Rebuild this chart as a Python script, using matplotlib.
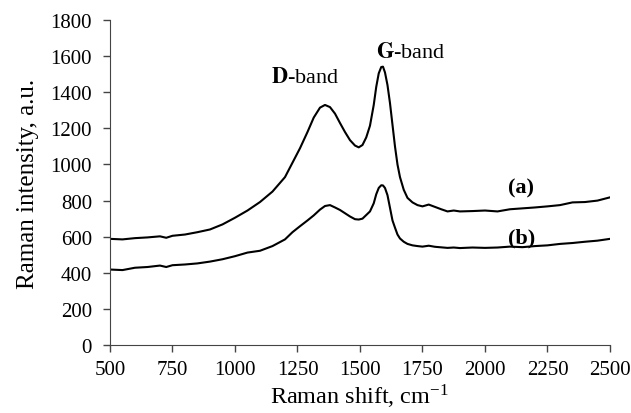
import matplotlib.pyplot as plt
import numpy as np

# 拉曼光谱数据
shift = [500, 550, 600, 650, 700, 725, 750, 800, 850, 900, 950, 1000, 1050, 1100, 1150,
         1200, 1230, 1260, 1290, 1315, 1340, 1360, 1380, 1400, 1420, 1440, 1460, 1480,
         1495, 1510, 1525, 1540, 1555, 1565, 1575, 1585, 1592, 1600, 1610, 1620, 1630,
         1640, 1650, 1660, 1675, 1690, 1710, 1730, 1750, 1775, 1800, 1825, 1850, 1875,
         1900, 1950, 2000, 2050, 2100, 2150, 2200, 2250, 2300, 2350, 2400, 2450, 2500]

int_a = [588, 585, 592, 596, 602, 594, 605, 612, 625, 640, 668, 705, 745, 792, 850,
         930, 1010, 1090, 1180, 1260, 1315, 1330, 1318, 1282, 1230, 1180, 1135, 1105,
         1095, 1108, 1150, 1215, 1330, 1430, 1505, 1540, 1542, 1510, 1440, 1340, 1220,
         1100, 1000, 930, 860, 815, 790, 775, 768, 778, 765, 752, 740, 745, 740, 742,
         745, 740, 752, 757, 762, 768, 775, 790, 792, 800, 818]

int_b = [418, 415, 428, 432, 440, 432, 442, 446, 452, 462, 475, 492, 512, 522, 548,
         585, 625, 658, 690, 718, 750, 770, 775, 762, 748, 730, 712, 697,
         695, 700, 720, 740, 785, 835, 870, 885, 884, 870, 830, 760, 690,
         650, 612, 590, 572, 560, 552, 548, 545, 550, 544, 541, 538, 540, 537, 540,
         538, 540, 545, 542, 548, 552, 560, 565, 572, 578, 588]

plt.rcParams['font.family'] = ['Liberation Serif', 'DejaVu Serif']
plt.rcParams['mathtext.fontset'] = 'stix'

fig = plt.figure(figsize=(6.31, 4.14), dpi=100)
ax = fig.add_axes([0.1743, 0.1643, 0.7924, 0.7847])

ax.plot(shift, int_a, color='black', linewidth=1.5)
ax.plot(shift, int_b, color='black', linewidth=1.5)

ax.set_xlim(500, 2500)
ax.set_ylim(0, 1800)
ax.set_xticks(range(500, 2501, 250))
ax.set_yticks(range(0, 1801, 200))
ax.spines['top'].set_visible(False)
ax.spines['right'].set_visible(False)
ax.spines['left'].set_color('#444444')
ax.spines['bottom'].set_color('#444444')
ax.tick_params(direction='out', length=5, width=1, color='#444444', labelsize=15)
ax.tick_params(axis='y', pad=8)
ax.tick_params(axis='x', pad=6)

ax.set_xlabel('Raman shift, cm$^{\\mathregular{-1}}$', fontsize=17.5, labelpad=2)
ax.set_ylabel('Raman intensity, a.u.', fontsize=18, labelpad=8)

ax.text(1280, 1484, r'$\mathbf{D}$-band', fontsize=16, ha='center', va='center')
ax.text(1704, 1623, r'$\mathbf{G}$-band', fontsize=16, ha='center', va='center')
ax.text(2144, 870, '(a)', fontsize=16, fontweight='bold', ha='center', va='center')
ax.text(2148, 593, '(b)', fontsize=16, fontweight='bold', ha='center', va='center')

plt.savefig('out.png', dpi=100)
